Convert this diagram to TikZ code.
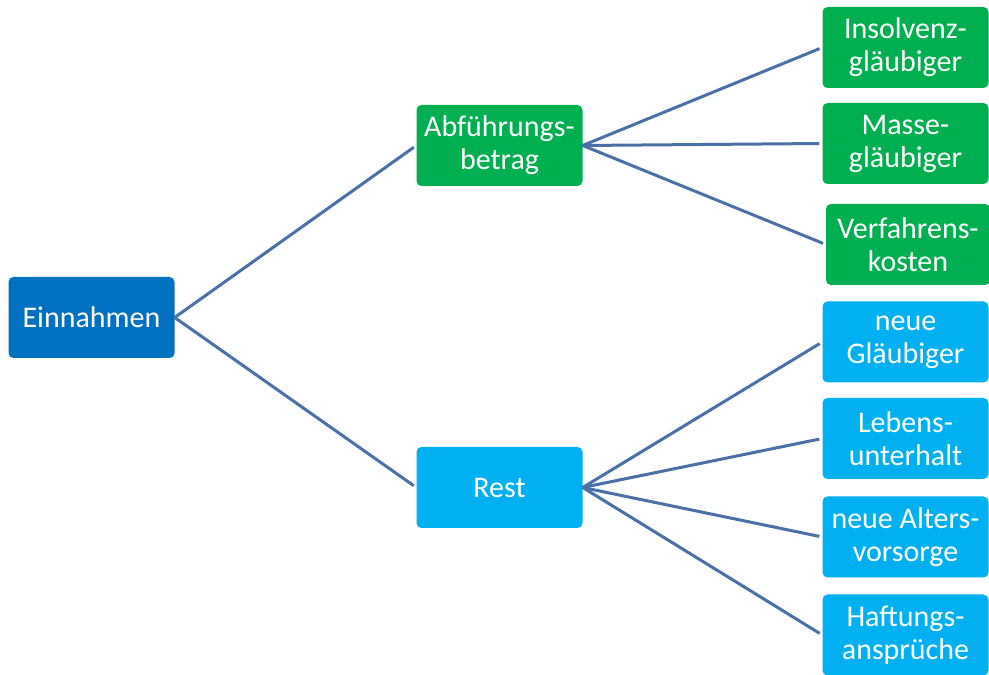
\documentclass[tikz,border=0pt]{standalone}
\usepackage{fontspec}
\setmainfont{Carlito}
\definecolor{dblue}{RGB}{0,112,192}
\definecolor{lgreen}{RGB}{0,176,80}
\definecolor{lblue}{RGB}{0,176,240}
\definecolor{linec}{RGB}{74,112,168}
\begin{document}
\begin{tikzpicture}[x=1pt, y=1pt,
    box/.style={rounded corners=5pt, text=white, minimum width=166pt, minimum height=81pt,
        inner sep=0pt, align=center, font=\fontsize{30}{33}\selectfont},
    conn/.style={draw=linec, line width=3pt, shorten >=3pt}]
\useasboundingbox (0,0) rectangle (989,675);
    \node[box, fill=dblue] (ein) at (91.5,357.5) {Einnahmen};
    \node[box, fill=lgreen] (abf) at (499.5,529.5) {Abführungs-\\betrag};
    \node[box, fill=lblue] (rest) at (499.5,187.5) {Rest};
    \node[box, fill=lgreen] (ins) at (905.5,627.5) {Insolvenz-\\gläubiger};
    \node[box, fill=lgreen] (mas) at (905.5,531.5) {Masse-\\gläubiger};
    \node[box, fill=lgreen, minimum width=164pt] (ver) at (908,430.5) {Verfahrens-\\kosten};
    \node[box, fill=lblue] (ng) at (905.5,333) {neue\\Gläubiger};
    \node[box, fill=lblue] (leb) at (905.5,236.5) {Lebens-\\unterhalt};
    \node[box, fill=lblue] (alt) at (905.5,138) {neue Alters-\\vorsorge};
    \node[box, fill=lblue] (haf) at (905.5,40) {Haftungs-\\ansprüche};
\draw[conn](ein.east)--(abf.west);
\draw[conn](ein.east)--(rest.west);
\foreach \n in {ins,mas,ver}
    \draw[conn](abf.east)--(\n.west);
\foreach \n in {ng,leb,alt,haf}
    \draw[conn](rest.east)--(\n.west);

\end{tikzpicture}
\end{document}
